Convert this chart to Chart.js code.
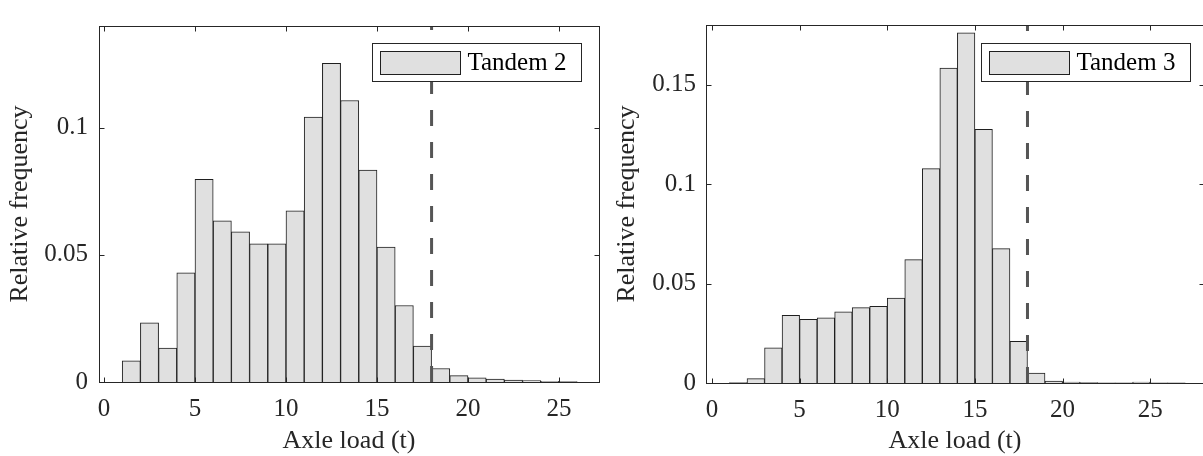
<!DOCTYPE html>
<html lang="en">
<head>
    <meta charset="utf-8">
    <title>Axle load histograms</title>
    <script src="https://cdn.jsdelivr.net/npm/chart.js@4.4.1/dist/chart.umd.min.js"></script>
    <style>
        * {
            padding: 0;
            margin: 0;
            box-sizing: border-box;
        }
        body {
            width: 1203px;
            height: 456px;
            background: #ffffff;
            overflow: hidden;
            position: relative;
        }
        .panel {
            position: absolute;
            top: 0;
            height: 456px;
        }
        #left-panel { left: 0; width: 602px; }
        #right-panel { left: 602px; width: 606px; }
    </style>
</head>
<body>
    <div class="panel" id="left-panel"><canvas id="tandem2" width="602" height="456"></canvas></div>
    <div class="panel" id="right-panel"><canvas id="tandem3" width="606" height="456"></canvas></div>

    <script>
        // bin left edges (t) and relative frequencies
        const tandem2Bins = [1, 2, 3, 4, 5, 6, 7, 8, 9, 10, 11, 12, 13, 14, 15, 16, 17, 18, 19, 20, 21, 22, 23, 24, 25];
        const tandem2Freq = [0.0083, 0.0233, 0.0133, 0.0429, 0.0797, 0.0634, 0.0591, 0.0543, 0.0543, 0.0673,
            0.1042, 0.1253, 0.1107, 0.0833, 0.0531, 0.0301, 0.0141, 0.0053, 0.0025, 0.0016,
            0.0011, 0.0008, 0.0006, 0.0003, 0.0002];

        const tandem3Bins = [1, 2, 3, 4, 5, 6, 7, 8, 9, 10, 11, 12, 13, 14, 15, 16, 17, 18, 19, 20, 21, 22, 23, 24, 25, 26];
        const tandem3Freq = [0.0002, 0.0022, 0.0177, 0.034, 0.032, 0.0328, 0.0358, 0.0379, 0.0385, 0.0427,
            0.062, 0.1078, 0.1583, 0.1761, 0.1275, 0.0676, 0.021, 0.005, 0.001, 0.0004,
            0.0002, 0.0001, 0.0001, 0.0005, 0.0001, 0.0001];

        const binWidth = 1;
        const legalLimit = 18; // dashed line

        const xTicks = [0, 5, 10, 15, 20, 25];
        const xTickLabels = ["0", "5", "10", "15", "20", "25"];
        const yTicks2 = [0, 0.05, 0.1];
        const yTickLabels2 = ["0", "0.05", "0.1"];
        const yTicks3 = [0, 0.05, 0.1, 0.15];
        const yTickLabels3 = ["0", "0.05", "0.1", "0.15"];

        const FONT = "'Liberation Serif', 'Times New Roman', serif";
        const AXIS_COLOR = "#262626";

        // box round the axes with inward ticks on all four sides
        const framePlugin = {
            id: "frame",
            afterDatasetsDraw(chart) {
                const { ctx, chartArea: a, scales } = chart;
                const L = Math.floor(a.left) + 0.5, R = Math.floor(a.right) + 0.5;
                const T = Math.floor(a.top) + 0.5, B = Math.floor(a.bottom) + 0.5;
                const len = 5;
                ctx.save();
                ctx.strokeStyle = AXIS_COLOR;
                ctx.lineWidth = 1;
                ctx.strokeRect(L, T, R - L, B - T);
                ctx.beginPath();
                scales.x.ticks.forEach(t => {
                    const px = Math.round(scales.x.getPixelForValue(t.value)) + 0.5;
                    ctx.moveTo(px, B); ctx.lineTo(px, B - len);
                    ctx.moveTo(px, T); ctx.lineTo(px, T + len);
                });
                scales.y.ticks.forEach(t => {
                    const py = Math.round(scales.y.getPixelForValue(t.value)) + 0.5;
                    ctx.moveTo(L, py); ctx.lineTo(L + len, py);
                    ctx.moveTo(R, py); ctx.lineTo(R - len, py);
                });
                ctx.stroke();
                ctx.restore();
            }
        };

        // MATLAB style legend in the north-east corner
        const boxLegend = {
            id: "boxLegend",
            afterDatasetsDraw(chart, args, opts) {
                const { ctx, chartArea: a } = chart;
                const ds = chart.data.datasets[0];
                const w = 209, h = 38;
                const x = Math.round(a.right - opts.right - w) + 0.5;
                const y = Math.round(a.top + opts.top) + 0.5;
                ctx.save();
                ctx.fillStyle = "#ffffff";
                ctx.fillRect(x, y, w, h);
                ctx.strokeStyle = AXIS_COLOR;
                ctx.lineWidth = 1;
                ctx.strokeRect(x, y, w, h);
                ctx.fillStyle = ds.backgroundColor;
                ctx.fillRect(x + 8, y + 8, 80, 23);
                ctx.strokeStyle = ds.borderColor;
                ctx.strokeRect(x + 8, y + 8, 80, 23);
                ctx.fillStyle = "#000000";
                ctx.font = "25px " + FONT;
                ctx.textBaseline = "middle";
                ctx.fillText(ds.label, x + 95, y + h / 2 + 1);
                ctx.restore();
            }
        };

        function makeHistogram(canvasId, label, bins, freq, cfg) {
            const bars = bins.map((b, i) => ({ x: b + binWidth / 2, y: freq[i] }));
            return new Chart(document.getElementById(canvasId), {
                type: "bar",
                data: {
                    datasets: [{
                        label: label,
                        data: bars,
                        backgroundColor: "#e0e0e0",
                        borderColor: "#1f1f1f",
                        borderWidth: 1,
                        barPercentage: 1,
                        categoryPercentage: 1,
                        order: 1
                    }, {
                        type: "line",
                        label: "limit",
                        data: [{ x: legalLimit, y: 0 }, { x: legalLimit, y: cfg.yMax }],
                        borderColor: "#555555",
                        borderWidth: 3,
                        borderDash: [16, 16],
                        pointRadius: 0,
                        fill: false,
                        order: 0
                    }]
                },
                options: {
                    responsive: false,
                    animation: false,
                    layout: { padding: cfg.padding },
                    scales: {
                        x: {
                            type: "linear",
                            offset: false,
                            min: cfg.xMin,
                            max: cfg.xMax,
                            grid: { display: false, drawTicks: false },
                            border: { display: false },
                            afterBuildTicks: s => { s.ticks = xTicks.map(v => ({ value: v })); },
                            afterFit: s => { s.height = cfg.xHeight; },
                            ticks: {
                                autoSkip: false,
                                maxRotation: 0,
                                padding: 12,
                                color: AXIS_COLOR,
                                font: { family: FONT, size: 25 },
                                callback: (v, i) => xTickLabels[i]
                            },
                            title: {
                                display: true,
                                text: "Axle load (t)",
                                color: AXIS_COLOR,
                                font: { family: FONT, size: 26, lineHeight: 1 },
                                padding: { top: 0, bottom: 2 }
                            }
                        },
                        y: {
                            min: 0,
                            max: cfg.yMax,
                            grid: { display: false, drawTicks: false },
                            border: { display: false },
                            afterBuildTicks: s => { s.ticks = cfg.yTicks.map(v => ({ value: v })); },
                            afterFit: s => { s.width = cfg.yWidth; },
                            ticks: {
                                autoSkip: false,
                                padding: cfg.yTickPad,
                                color: AXIS_COLOR,
                                font: { family: FONT, size: 25 },
                                callback: (v, i) => cfg.yLabels[i]
                            },
                            title: {
                                display: true,
                                text: "Relative frequency",
                                color: AXIS_COLOR,
                                font: { family: FONT, size: 26, lineHeight: 1 },
                                padding: { top: cfg.yTitlePad, bottom: 0 }
                            }
                        }
                    },
                    plugins: {
                        legend: { display: false },
                        tooltip: { enabled: false },
                        boxLegend: cfg.legend
                    }
                },
                plugins: [framePlugin, boxLegend]
            });
        }

        makeHistogram("tandem2", "Tandem 2", tandem2Bins, tandem2Freq, {
            xMin: -0.275, xMax: 27.2, yMax: 0.14,
            yTicks: yTicks2, yLabels: yTickLabels2,
            padding: { top: 11, right: 3, bottom: 0, left: 0 },
            xHeight: 74, yWidth: 99, yTickPad: 11, yTitlePad: 7,
            legend: { right: 18, top: 17 }
        });

        makeHistogram("tandem3", "Tandem 3", tandem3Bins, tandem3Freq, {
            xMin: -0.34, xMax: 28.07, yMax: 0.18,
            yTicks: yTicks3, yLabels: yTickLabels3,
            padding: { top: 13, right: 4, bottom: 0, left: 0 },
            xHeight: 73, yWidth: 104, yTickPad: 10, yTitlePad: 12,
            legend: { right: 14, top: 18 }
        });
    </script>
</body>
</html>
